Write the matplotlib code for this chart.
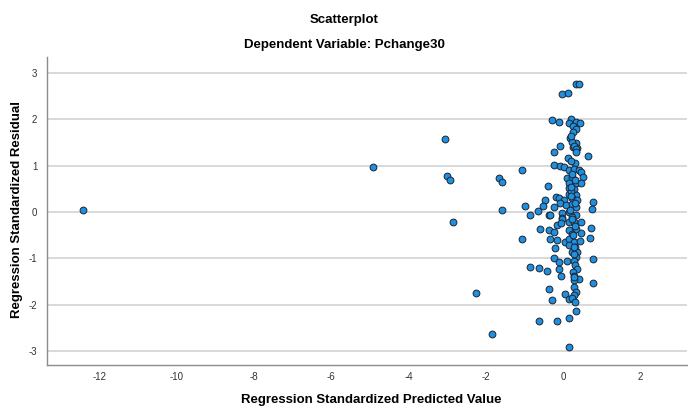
import numpy as np
import matplotlib
matplotlib.use("Agg")
import matplotlib.pyplot as plt

plt.rcParams['font.family'] = ['Liberation Sans', 'DejaVu Sans']
plt.rcParams['axes.unicode_minus'] = False

# standardized predicted value / standardized residual pairs
pred = [
    -12.43, -4.93, -3.07, -3.0, -2.92, -2.85, -2.26, -1.83, -1.67, -1.58, -1.58,
    -1.06, -1.07, 0.34, 0.40, -0.03, 0.13, -0.29, -0.12, 0.20, 0.16, 0.33, 0.44,
    0.26, 0.33, 0.26, 0.18, 0.33, 0.22, -0.08, 0.26, 0.37, -0.25, 0.28, 0.34,
    0.33, 0.13, 0.65, -0.25, -0.09, 0.03, 0.31, 0.16, 0.28, 0.40, 0.46, 0.11,
    0.24, 0.50, 0.14, 0.33, 0.46, -0.39, 0.16, 0.28, 0.14, 0.34, -0.19, -0.12,
    -0.48, 0.03, 0.24, 0.37, 0.76, -0.99, -0.52, -0.25, -0.09, 0.07, 0.24, 0.34,
    0.74, -0.86, -0.66, -0.36, -0.03, 0.16, 0.34, -0.02, 0.24, -0.34, -0.02,
    0.16, 0.28, 0.46, -0.17, -0.06, -0.60, -0.36, -0.25, 0.14, 0.33, 0.72, 0.46,
    0.24, -0.34, -0.15, 0.04, 0.16, 0.28, 0.44, 0.69, -0.21, 0.16, 0.31, 0.24,
    0.37, 0.33, -0.25, -0.12, 0.11, 0.28, 0.76, 0.31, 0.37, -0.86, -0.62, -0.41,
    -0.10, 0.26, -0.06, 0.28, 0.40, 0.28, 0.76, -0.38, 0.28, 0.05, 0.33, 0.28,
    -0.28, 0.16, 0.24, 0.31, 0.34, -0.62, -0.17, 0.14, 0.16, 0.20, 0.30, 0.22,
    0.30, 0.18, 0.25, 0.21, 0.29, 0.19, 0.31, 0.23, 0.27, 0.20, 0.29, 0.21,
]
resid = [
    0.04, 0.97, 1.58, 0.79, 0.69, -0.22, -1.75, -2.64, 0.73, 0.65, 0.04,
    0.91, -0.58, 2.76, 2.76, 2.55, 2.58, 1.99, 1.94, 2.01, 1.93, 1.95, 1.92,
    1.86, 1.79, 1.73, 1.59, 1.50, 1.52, 1.43, 1.41, 1.39, 1.29, 1.43, 1.36,
    1.30, 1.16, 1.21, 1.01, 1.00, 0.98, 1.05, 0.91, 0.93, 0.91, 0.87, 0.74,
    0.76, 0.76, 0.62, 0.62, 0.63, 0.57, 0.51, 0.50, 0.40, 0.38, 0.32, 0.30,
    0.27, 0.26, 0.30, 0.26, 0.22, 0.13, 0.13, 0.11, 0.19, 0.15, 0.17, 0.11,
    0.06, -0.06, 0.02, -0.06, -0.03, 0.01, -0.06, -0.12, -0.10, -0.06, -0.14,
    -0.21, -0.21, -0.22, -0.28, -0.24, -0.37, -0.39, -0.43, -0.39, -0.37, -0.34, -0.46,
    -0.48, -0.57, -0.60, -0.64, -0.58, -0.64, -0.63, -0.55, -0.77, -0.71, -0.76, -0.86,
    -0.86, -0.97, -1.00, -1.07, -1.06, -1.05, -1.02, -1.14, -1.22, -1.18, -1.20, -1.27,
    -1.22, -1.29, -1.38, -1.38, -1.45, -1.47, -1.53, -1.66, -1.61, -1.77, -1.72, -1.78,
    -1.90, -1.88, -1.85, -1.95, -2.13, -2.35, -2.35, -2.28, -2.92, 0.45, 0.70, 0.82,
    -0.30, 0.05, -0.50, 1.10, -0.90, 0.35, 0.20, -0.15, -0.75, 0.55, -1.40, 1.65,
]

fig = plt.figure(figsize=(6.88, 4.07), dpi=100)
ax = fig.add_axes([0.0683, 0.1032, 0.93, 0.757])

ax.scatter(pred, resid, s=24, c='#1f8fe0', edgecolors='#1c2530',
           linewidths=0.7, zorder=3)

ax.set_xlim(-13.36, 3.2)
ax.set_ylim(-3.30, 3.35)
ax.set_xticks([-12, -10, -8, -6, -4, -2, 0, 2])
ax.set_yticks([-3, -2, -1, 0, 1, 2, 3])
ax.tick_params(length=0, labelsize=7, labelcolor='#333333', pad=7)
ax.tick_params(axis='x', pad=5)

ax.grid(axis='y', color='#d2d2d2', linewidth=1.2, zorder=0)
for side in ['top', 'right']:
    ax.spines[side].set_visible(False)
for side in ['left', 'bottom']:
    ax.spines[side].set_color('#8c8c8c')
    ax.spines[side].set_linewidth(1.0)

# axis titles placed on the figure so they stay inside the canvas
fig.text(0.539, 0.018, 'Regression Standardized Predicted Value', ha='center',
         va='center', fontsize=9.5, fontweight='bold')
fig.text(0.025, 0.485, 'Regression Standardized Residual', ha='center',
         va='center', rotation=90, fontsize=9.5, fontweight='bold')

fig.text(0.5, 0.951, 'Scatterplot', ha='center', va='center',
         fontsize=9.5, fontweight='bold')
fig.text(0.5, 0.889, 'Dependent Variable: Pchange30', ha='center', va='center',
         fontsize=9.5, fontweight='bold')

fig.savefig('out.png', dpi=100)
